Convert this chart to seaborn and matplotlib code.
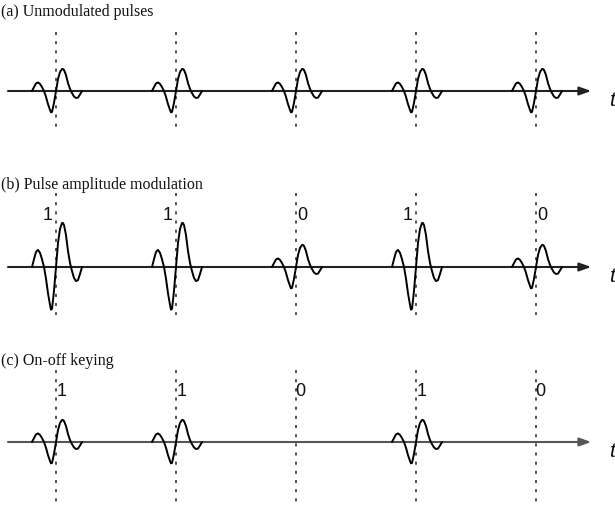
import numpy as np
import pandas as pd
import matplotlib
matplotlib.use("Agg")
import matplotlib.pyplot as plt
import seaborn as sns

# ---------------- data ----------------
panel_titles = ["(a) Unmodulated pulses", "(b) Pulse amplitude modulation", "(c) On-off keying"]
bits = [1, 1, 0, 1, 0]
unmod_amp = [1, 1, 1, 1, 1]
pam_amp = [2, 2, 1, 2, 1]
ook_amp = [1, 1, 0, 1, 0]
bit_labels = ["1", "1", "0", "1", "0"]

# pulse shape: offset (fraction of bit period) and relative height
pulse_dt = [-0.200, -0.183, -0.167, -0.150, -0.133, -0.117, -0.100, -0.083, -0.067,
            -0.050, -0.042, -0.033, -0.017, 0.000, 0.017, 0.033, 0.050, 0.058, 0.067,
            0.083, 0.100, 0.117, 0.125, 0.133, 0.150, 0.167, 0.183, 0.200, 0.217]
pulse_h = [0.00, 0.18, 0.34, 0.39, 0.32, 0.18, 0.00, -0.27, -0.59,
           -0.86, -0.97, -0.95, -0.55, 0.00, 0.55, 0.86, 1.00, 1.00, 0.95,
           0.73, 0.36, 0.09, 0.00, -0.09, -0.25, -0.32, -0.30, -0.16, 0.00]

# ---------------- figure ----------------
sns.set_style("white")
W, H = 615, 508
fig = plt.figure(figsize=(W / 100, H / 100), dpi=100)

PX_PER_T = 120.0       # pixels per bit period
X0_PX = 56.0           # pixel of first pulse centre
PX_PER_UNIT = 22.0     # pixels per unit amplitude

bands = [(0, 176, 91), (176, 176, 91), (352, 156, 90)]   # top, height, baseline (px)
dash_ext = [(2.68, -1.77), (3.36, -2.18), (3.27, -2.86)]
amps = [unmod_amp, pam_amp, ook_amp]
axis_colors = ["#222222", "#222222", "#555555"]

for i, (top, h, base) in enumerate(bands):
    ax = fig.add_axes([0, 1 - (top + h) / H, 1, h / H])

    # dashed bit-period markers
    for k in range(len(bits)):
        ax.plot([k, k], list(dash_ext[i]), color="#222222", lw=1.1,
                linestyle=(0, (2, 4)), zorder=1)

    # time axis with arrow
    ax.annotate("", xy=(4.46, 0), xytext=(-0.40, 0),
                arrowprops=dict(arrowstyle="-|>,head_length=0.7,head_width=0.25",
                                color=axis_colors[i], lw=1.5, shrinkA=0, shrinkB=0),
                zorder=2)
    ax.text(4.61, -0.42, "t", fontsize=15, style="italic", family="Liberation Sans",
            ha="left", va="center", color="#111111")

    # pulses
    rows = []
    for k, a in enumerate(amps[i]):
        if a == 0:
            continue
        for dt, ph in zip(pulse_dt, pulse_h):
            rows.append({"pulse": k, "t": k + dt, "v": a * ph})
    df = pd.DataFrame(rows)
    sns.lineplot(data=df, x="t", y="v", units="pulse", estimator=None, sort=False,
                 color="black", lw=1.4, ax=ax, legend=False, zorder=3)
    ax.set_xlim(-X0_PX / PX_PER_T, (W - X0_PX) / PX_PER_T)
    ax.set_ylim(-(h - base) / PX_PER_UNIT, base / PX_PER_UNIT)
    ax.axis("off")

    # panel title
    fig.text(1 / W, 1 - (top + (12 if i == 0 else 9)) / H, panel_titles[i],
             family="Liberation Serif", fontsize=11.5, ha="left", va="center", color="#111111")

    # bit labels
    if i == 1:
        for k, lab in enumerate(bit_labels):
            off = -8 if lab == "1" else 6
            ax.text(k + off / PX_PER_T, 51 / PX_PER_UNIT, lab, family="Liberation Sans",
                    fontsize=13, ha="center", va="center", color="#111111")
    if i == 2:
        for k, lab in enumerate(bit_labels):
            off = 6 if lab == "1" else 4
            ax.text(k + off / PX_PER_T, 50 / PX_PER_UNIT, lab, family="Liberation Sans",
                    fontsize=13, ha="center", va="center", color="#111111")

fig.savefig("out.png", dpi=100)
